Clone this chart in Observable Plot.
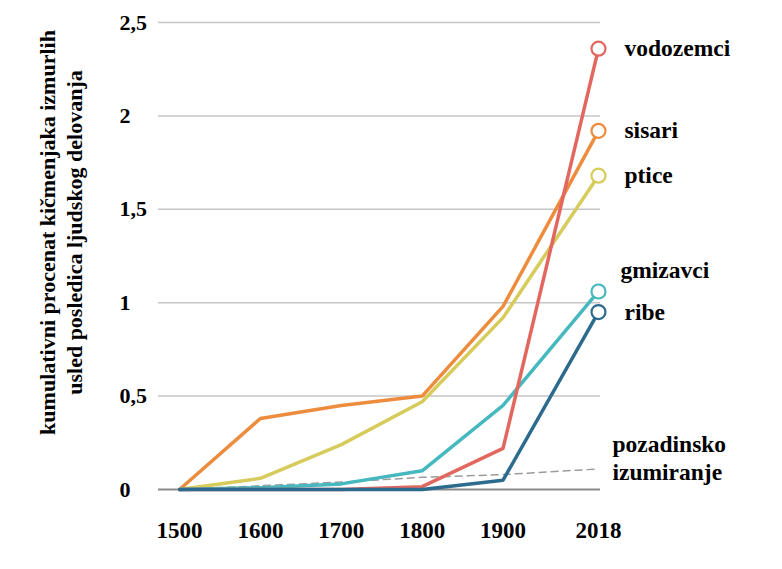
<!DOCTYPE html>
<html><head><meta charset="utf-8">
<script src="https://cdn.jsdelivr.net/npm/d3@7"></script>
<script src="https://cdn.jsdelivr.net/npm/@observablehq/plot@0.6"></script>
<style>
html,body{margin:0;padding:0;background:#fff;}
svg text { font-family: "Liberation Serif", "Times New Roman", serif; font-weight: bold; }
</style>
</head><body><div id="chart"></div>
<script>
// ---- data ----
const years = [1500, 1600, 1700, 1800, 1900, 2018];
const seriesNames = ["sisari", "ptice", "gmizavci", "vodozemci", "ribe"];
const sisari    = [0, 0.38, 0.45, 0.50, 0.98, 1.92];
const ptice     = [0, 0.06, 0.24, 0.47, 0.92, 1.68];
const gmizavci  = [0, 0.01, 0.03, 0.10, 0.45, 1.06];
const vodozemci = [0, 0, 0, 0.015, 0.22, 2.36];
const ribe      = [0, 0, 0, 0, 0.05, 0.95];
const pozadinsko = [0, 0.02, 0.04, 0.065, 0.08, 0.11];
const yTicks = [0, 0.5, 1, 1.5, 2, 2.5];
const yTitle = "kumulativni procenat kičmenjaka izmurlih\nusled posledica ljudskog delovanja";
const bgLabel = "pozadinsko\nizumiranje";

// ---- build ----
const seriesValues = [sisari, ptice, gmizavci, vodozemci, ribe];
const colors = ["#ee8c3e", "#d6cb5b", "#46b8bf", "#e2685f", "#2c6b8e"];
const rows = seriesNames.flatMap((s, i) => years.map((y, j) => ({series: s, year: y, value: seriesValues[i][j]})));
const bgRows = years.map((y, j) => ({year: y, value: pozadinsko[j]}));
const last = rows.filter(d => d.year === years[years.length - 1]);
const FONT = "Liberation Serif";

const chart = Plot.plot({
  width: 782, height: 569,
  marginLeft: 158, marginRight: 182, marginTop: 22, marginBottom: 80,
  style: {background: "#fff", color: "#000", overflow: "visible", fontFamily: FONT, fontWeight: "bold"},
  x: {domain: [1474, 2020.5], axis: null},
  y: {domain: [0, 2.5], axis: null},
  color: {domain: seriesNames, range: colors},
  marks: [
    Plot.ruleY(yTicks.filter(d => d > 0), {stroke: "#c6c6c6", strokeWidth: 1.5}),
    Plot.ruleY([0], {stroke: "#8a8a8a", strokeWidth: 2}),
    Plot.axisY(yTicks, {label: null, tickSize: 0, tickFormat: d => String(d).replace(".", ","), textAnchor: "start", dx: -30, fontSize: 22, fontFamily: FONT, fill: "#000"}),
    Plot.axisX(years, {label: null, tickSize: 0, tickPadding: 32, tickFormat: d => String(d), fontSize: 23, fontFamily: FONT, fill: "#000"}),
    Plot.line(bgRows, {x: "year", y: "value", stroke: "#9c9c9c", strokeDasharray: "7,5", strokeWidth: 1.5}),
    Plot.line(rows, {x: "year", y: "value", z: "series", stroke: "series", strokeWidth: 3.5, strokeLinejoin: "round"}),
    Plot.dot(last, {x: "year", y: "value", r: 7, fill: "white", stroke: "series", strokeWidth: 2.2}),
    Plot.text(last.filter(d => d.series !== "gmizavci"), {x: "year", y: "value", text: "series", textAnchor: "start", dx: 26, fontSize: 23.5, fontFamily: FONT, fill: "#000"}),
    Plot.text(last.filter(d => d.series === "gmizavci"), {x: "year", y: "value", text: "series", textAnchor: "start", dx: 22, dy: -21, fontSize: 23.5, fontFamily: FONT, fill: "#000"}),
    Plot.text(bgRows.slice(-1), {x: "year", y: "value", text: () => bgLabel, textAnchor: "start", dx: 14, dy: -12, fontSize: 23.5, lineHeight: 1.18, fontFamily: FONT, fill: "#000"}),
    Plot.text([yTitle], {frameAnchor: "left", rotate: -90, dx: -98.5, dy: -23.5, fontSize: 22, lineHeight: 1.2, textAnchor: "middle", fontFamily: FONT, fill: "#000"})
  ]
});
document.getElementById("chart").appendChild(chart);
</script>
</body></html>
